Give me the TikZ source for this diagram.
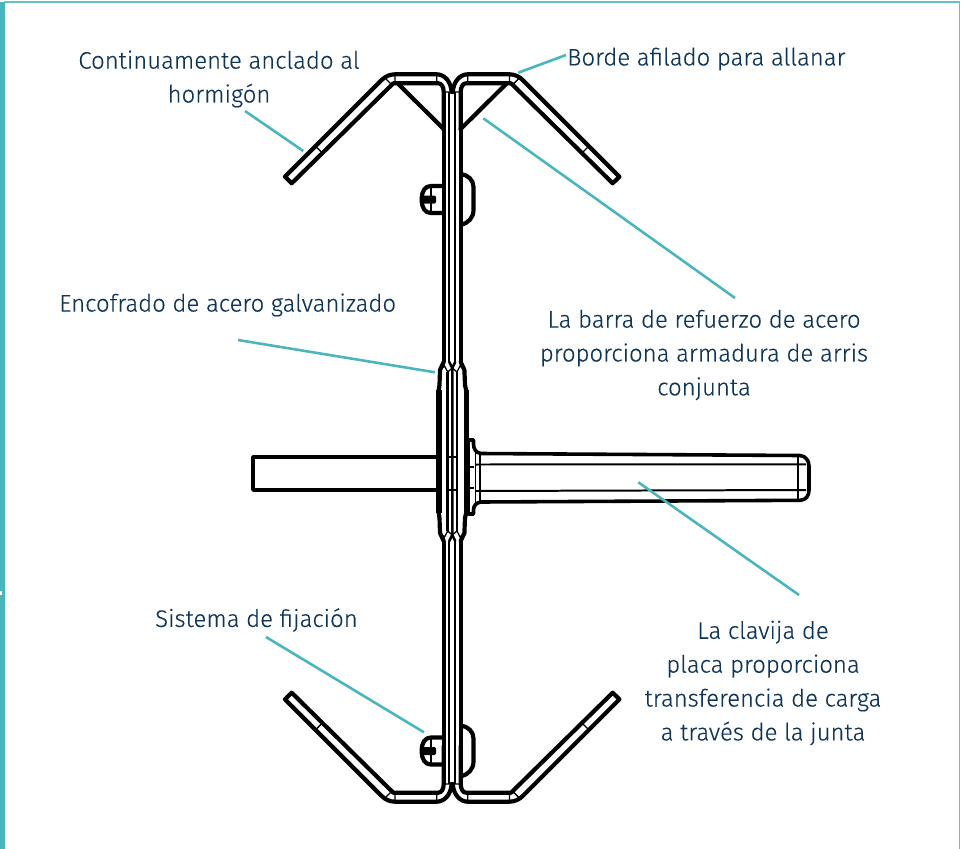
\documentclass[tikz,border=0pt]{standalone}
\usepackage{fontspec}
\setmainfont{Fira Sans Light}[FakeBold=0.35]
\definecolor{ink}{HTML}{0F3557}
\definecolor{teal}{HTML}{4AB5BD}
\tikzset{
  lab/.style={text=ink,font=\fontsize{24}{34}\selectfont,align=center,inner sep=0pt},
  leader/.style={draw=teal,line width=2.6pt},
  heavy/.style={draw=black,line width=4.2pt,line join=round,line cap=round},
  medium/.style={draw=black,line width=2.6pt,line join=round},
  fine/.style={draw=black,line width=1.3pt},
}
\newcommand{\armend}[1]{%
  \begin{scope}[shift={(452.2,438)},#1,shift={(-452.2,-438)}]
    \path[heavy] (451.6,92) .. controls (451,81) and (444,74.3) .. (436.7,74.3)
      -- (395,74.3) .. controls (390,74.3) and (385,76.5) .. (381.7,80) -- (285,176.7) -- (291.7,183.3)
      -- (393.3,83.3) -- (438.3,83.3) .. controls (441.5,83.3) and (443.7,87) .. (443.7,92) -- (443.7,130);
    \path[fine] (395,74.3) -- (395,83.3) (436.7,74.3) -- (436.7,83.3) (443.7,92) -- (452.2,92)
      (315.3,146) -- (322,152.6) (384.5,77.5) -- (391,84);
  \end{scope}}
\newcommand{\screw}[2]{%
  \begin{scope}[shift={(#1,#2)}]
    \path[heavy] (443,186) -- (431,186) .. controls (425,186) and (421.7,191) .. (421.7,199.5)
      .. controls (421.7,208) and (425,213) .. (431,213) -- (443,213);
    \path[fine] (431,186) -- (431,213);
    \fill[black,rounded corners=1.5pt] (420.5,195.5) rectangle (436,203.5);
    \path[heavy] (461,174) .. controls (468,175) and (473.5,180) .. (473.5,187) -- (473.5,210)
      .. controls (473.5,218) and (468,223) .. (461,225);
  \end{scope}}
\begin{document}
\begin{tikzpicture}[x=1bp,y=-1bp]
\useasboundingbox (0,0) rectangle (970,849);
% page frame
\fill[teal] (0,2) rectangle (5,849);
\fill[teal!85] (4,1) rectangle (960,2.6);
\fill[teal!85] (958.6,1) rectangle (960,849);
\fill[white] (0,591) rectangle (2,595);
% label nodes
\node[lab] (anclado) at (219,79) {Continuamente anclado al\\hormigón};
\node[lab,anchor=west] (borde) at (567,59) {Borde afilado para allanar};
\node[lab,anchor=west] (encofrado) at (59,305) {Encofrado de acero galvanizado};
\node[lab] (barra) at (704,355) {La barra de refuerzo de acero\\proporciona armadura de arris\\conjunta};
\node[lab,anchor=west] (sistema) at (155,620) {Sistema de fijación};
\node[lab] (clavija) at (763,683) {La clavija de\\placa proporciona\\transferencia de carga\\a través de la junta};
% leader ends
\coordinate (a1) at (245,111); \coordinate (a2) at (303.3,151);
\coordinate (b1) at (566,55);  \coordinate (b2) at (518.3,72.7);
\coordinate (c1) at (735,298); \coordinate (c2) at (483.3,118.3);
\coordinate (d1) at (238,340); \coordinate (d2) at (435,372.3);
\coordinate (e1) at (799,595); \coordinate (e2) at (638.3,482.3);
\coordinate (f1) at (266,637); \coordinate (f2) at (424,732.3);
% four bent arms
\armend{xscale=1}
\armend{xscale=-1}
\armend{yscale=-1}
\armend{xscale=-1,yscale=-1}
% long web lines
\foreach \X/\W in {443.7/4.2pt,449.2/2pt,455.2/2pt,460.7/4.2pt}{
  \draw[line width=\W] (\X,92) -- (\X,362);
  \draw[line width=\W] (\X,541) -- (\X,784);
}
% braces
\draw[heavy] (398.3,84) -- (443.7,129);
\draw[heavy] (506.1,84) -- (460.7,129);
% screws and clips
\screw{0}{0}
\screw{0}{551.5}
% central bulge
\draw[heavy] (443.7,362) -- (440,370) -- (439.5,385) -- (438.5,392) -- (438.5,511) -- (439.5,518) -- (440,533) -- (443.7,541);
\draw[heavy] (460.7,362) -- (464.4,370) -- (465,385) -- (466.5,392) -- (466.5,511) -- (465,518) -- (464.4,533) -- (460.7,541);
\fill[black] (436,390) rectangle (441.5,513);
\fill[black] (464,390) rectangle (469,513);
\draw[medium] (449.2,362) -- (452.3,368) -- (452.3,535) -- (449.2,541);
\draw[medium] (455.2,362) -- (452.3,368) (452.3,535) -- (455.2,541);
\draw[fine] (441,369) -- (444.5,366) -- (447.7,372) (447.7,531) -- (444.5,537) -- (441,534);
\draw[fine] (463.5,369) -- (460,366) -- (457,372) (457,531) -- (460,537) -- (463.5,534);
\draw[medium] (447.7,372) -- (447.7,531) (457,372) -- (457,531);
\draw[fine] (447.7,372) -- (452.3,368) -- (457,372) (447.7,531) -- (452.3,535) -- (457,531);
% left bar
\draw[line width=3.6pt,line join=round] (438,457) -- (253,457) -- (253,490) -- (438,490);
\draw[medium] (447.7,457) -- (457,457) (447.7,490) -- (457,490);
% dowel
\draw[line width=3.6pt,line join=round,fill=white] (468,440) -- (473.5,440) -- (473.5,444)
  .. controls (473.5,449) and (476,453) .. (481,453.5) -- (800,455.5)
  .. controls (806,456) and (809,461) .. (809,466) -- (809,490)
  .. controls (809,496) and (806,500) .. (800,500.3) -- (481,502)
  .. controls (476,502.5) and (473.5,506) .. (473.5,510) -- (473.5,514) -- (468,514) -- cycle;
\draw[line width=2pt] (475,464.5) -- (806,464.3) (475,491) -- (806,490);
\draw[fine] (480,453.5) -- (480,502) (798,455.5) -- (798,500.3) (475.5,448) -- (475.5,507);
\draw[fine] (468,467) -- (473.5,467) (468,488) -- (473.5,488);
\fill[black] (466,441) rectangle (469,513);
% leaders
\draw[leader] (a1) -- (a2);
\draw[leader] (b1) -- (b2);
\draw[leader] (c1) -- (c2);
\draw[leader] (d1) -- (d2);
\draw[leader] (e1) -- (e2);
\draw[leader] (f1) -- (f2);
\end{tikzpicture}
\end{document}
